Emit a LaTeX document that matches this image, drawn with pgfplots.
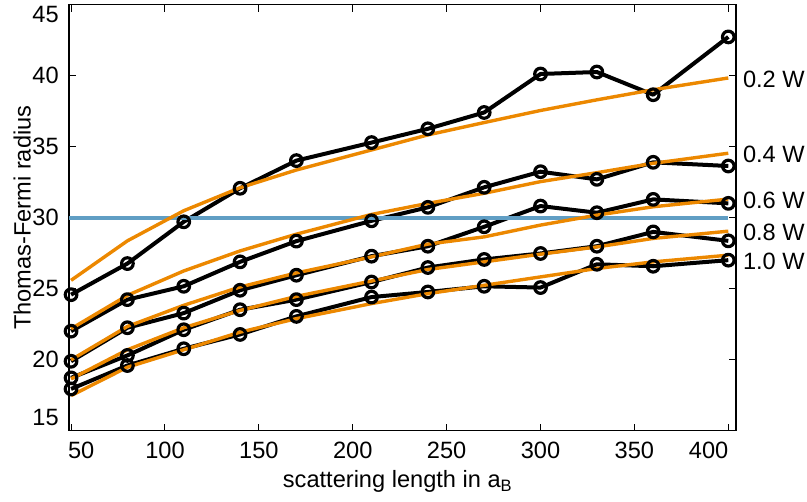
\documentclass[border=0pt]{standalone}
\usepackage{fontspec}
\setmainfont{Liberation Sans}
\usepackage{pgfplots}
\pgfplotsset{compat=1.18}
\definecolor{fitorange}{RGB}{236,136,0}
\definecolor{refblue}{RGB}{96,158,196}
\begin{document}
\fontsize{11.8pt}{14pt}\selectfont
\begin{tikzpicture}
\begin{axis}[
  name=ax, at={(0,0)}, anchor=south west,
  scale only axis, width=333.5pt, height=213pt,
  xmin=48.9, xmax=404.1, ymin=15, ymax=45,
  xtick={50,100,...,400},
  xticklabels={\makebox[0pt][l]{\hspace{-1.5pt}50},100,150,200,250,300,350,\makebox[0pt][r]{400}},
  ytick={15,20,...,45},
  yticklabels={\raisebox{6.5pt}[\height][\depth]{15},20,25,30,35,40,\raisebox{-5pt}[\height][\depth]{45}},
  tick align=inside, major tick length=3.5pt,
  tick style={black, line width=0.5pt},
  axis line style={line width=0.7pt},
  /pgf/number format/assume math mode=true,
  tick label style={font=\fontsize{11.8pt}{14pt}\selectfont},
  xticklabel style={yshift=-1.5pt},
  yticklabel style={xshift=-1pt},
  xlabel={scattering length in a\textsubscript{B}},
  ylabel={Thomas-Fermi radius},
  xlabel style={at={(axis description cs:0.493,-0.1197)}, anchor=center, font=\fontsize{11.8pt}{14pt}\selectfont},
  ylabel style={at={(axis description cs:-0.070,0.5)}, anchor=center, rotate=0, font=\fontsize{11.8pt}{14pt}\selectfont},
  clip=false,
  every axis plot/.append style={line join=round},
]
% data (black with circles)
\addplot[black, line width=2pt, mark=o, mark size=2.9pt, mark options={line width=1.6pt, fill=white}] coordinates {
(50,24.58)(80,26.77)(110,29.71)(140,32.07)(170,34.02)(210,35.29)(240,36.26)(270,37.41)(300,40.12)(330,40.26)(360,38.66)(400,42.73)};
\addplot[black, line width=2pt, mark=o, mark size=2.9pt, mark options={line width=1.6pt, fill=white}] coordinates {
(50,22.01)(80,24.23)(110,25.17)(140,26.89)(170,28.35)(210,29.78)(240,30.73)(270,32.14)(300,33.24)(330,32.70)(360,33.90)(400,33.64)};
\addplot[black, line width=2pt, mark=o, mark size=2.9pt, mark options={line width=1.6pt, fill=white}] coordinates {
(50,19.89)(80,22.25)(110,23.28)(140,24.89)(170,25.95)(210,27.29)(240,27.99)(270,29.36)(300,30.82)(330,30.35)(360,31.29)(400,31.01)};
\addplot[black, line width=2pt, mark=o, mark size=2.9pt, mark options={line width=1.6pt, fill=white}] coordinates {
(50,18.72)(80,20.30)(110,22.11)(140,23.52)(170,24.23)(210,25.47)(240,26.49)(270,27.06)(300,27.48)(330,27.99)(360,29.00)(400,28.37)};
\addplot[black, line width=2pt, mark=o, mark size=2.9pt, mark options={line width=1.6pt, fill=white}] coordinates {
(50,17.94)(80,19.59)(110,20.77)(140,21.78)(170,23.05)(210,24.41)(240,24.77)(270,25.17)(300,25.08)(330,26.72)(360,26.58)(400,27.01)};
% reference line
\addplot[refblue, line width=2pt] coordinates {(48.9,30)(400,30)};
% fits (orange)
\addplot[fitorange, line width=1.7pt] coordinates {
(50,25.59)(80,28.37)(110,30.49)(140,32.11)(170,33.36)(210,34.77)(240,35.83)(270,36.70)(300,37.55)(330,38.30)(360,39.01)(400,39.84)};
\addplot[fitorange, line width=1.7pt] coordinates {
(50,22.18)(80,24.53)(110,26.25)(140,27.66)(170,28.84)(210,30.23)(240,31.01)(270,31.72)(300,32.54)(330,33.17)(360,33.83)(400,34.54)};
\addplot[fitorange, line width=1.7pt] coordinates {
(50,19.99)(80,22.34)(110,23.83)(140,25.12)(170,26.11)(210,27.24)(240,28.14)(270,28.65)(300,29.48)(330,30.18)(360,30.77)(400,31.31)};
\addplot[fitorange, line width=1.7pt] coordinates {
(50,18.65)(80,20.70)(110,22.25)(140,23.47)(170,24.46)(210,25.54)(240,26.35)(270,26.89)(300,27.43)(330,27.94)(360,28.54)(400,29.05)};
\addplot[fitorange, line width=1.7pt] coordinates {
(50,17.47)(80,19.47)(110,20.70)(140,21.94)(170,22.89)(210,23.95)(240,24.65)(270,25.24)(300,25.83)(330,26.42)(360,26.89)(400,27.36)};
% series labels
\node[anchor=west, inner sep=0pt, xshift=3.3pt] at (axis cs:404.1,39.72) {0.2 W};
\node[anchor=west, inner sep=0pt, xshift=3.3pt] at (axis cs:404.1,34.49) {0.4 W};
\node[anchor=west, inner sep=0pt, xshift=3.3pt] at (axis cs:404.1,31.24) {0.6 W};
\node[anchor=west, inner sep=0pt, xshift=3.3pt] at (axis cs:404.1,28.98) {0.8 W};
\node[anchor=west, inner sep=0pt, xshift=3.3pt] at (axis cs:404.1,26.93) {1.0 W};
\end{axis}
\pgfresetboundingbox
\path[use as bounding box] ([shift={(-34.5pt,-35.5pt)}]ax.south west) rectangle ([shift={(35.5pt,2.35pt)}]ax.north east);
\end{tikzpicture}
\end{document}
